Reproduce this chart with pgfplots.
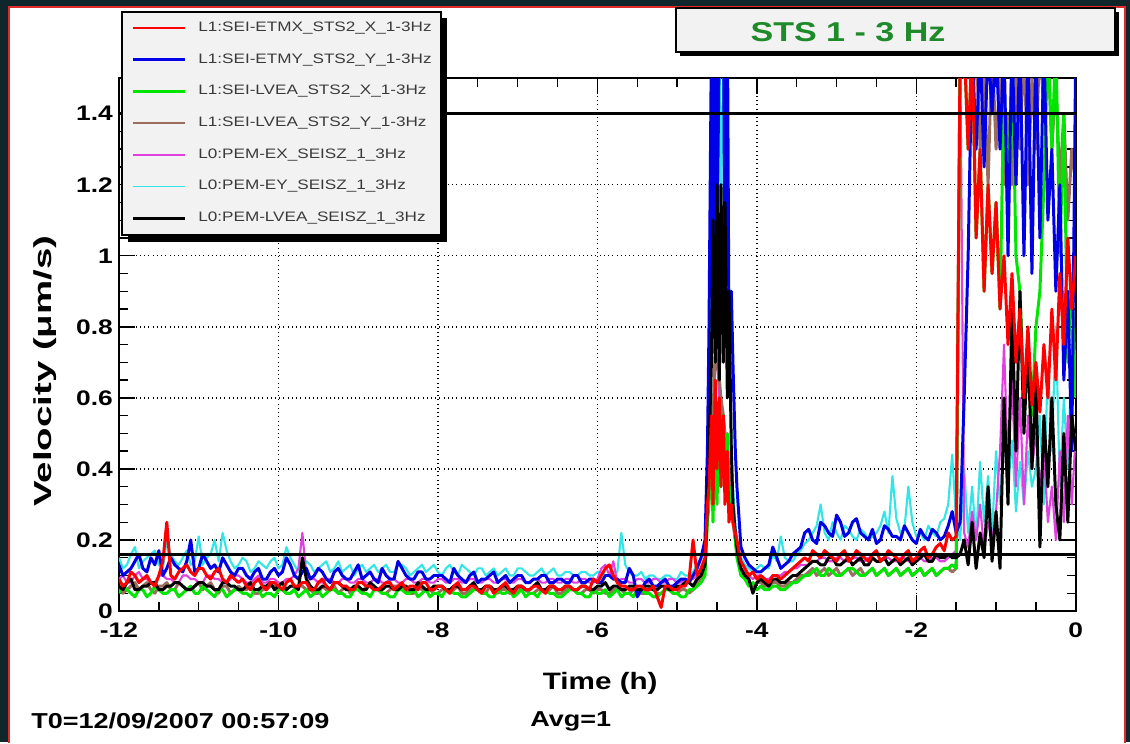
\documentclass[border=0pt]{standalone}
\usepackage{pgfplots}
\pgfplotsset{compat=1.18}
\usepackage{pgfplotstable}
\usepackage{fontspec}
\setmainfont{Liberation Sans}[FakeStretch=1.25]

\definecolor{bgdark}{HTML}{0F262B}
\definecolor{frame}{HTML}{E02A2A}
\definecolor{boxgray}{HTML}{F2F2F2}
\definecolor{legtext}{HTML}{3A3A3A}
\definecolor{cR}{HTML}{FF0000}
\definecolor{cB}{HTML}{0000E6}
\definecolor{cG}{HTML}{00E600}
\definecolor{cN}{HTML}{9A6E5E}
\definecolor{cM}{HTML}{E040E0}
\definecolor{cC}{HTML}{33E6E6}
\definecolor{ttl}{HTML}{1E8A2A}

% x  r=ETMX_X  b=ETMY_Y  g=LVEA_X  n=LVEA_Y  m=EX  c=EY  k=LVEA
\pgfplotstableread{
x      r    b    g    n    m    c    k
-12.0  .09  .13  .05  .07  .09  .15  .07
-11.95 .07  .10  .07  .05  .10  .12  .06
-11.9  .08  .11  .06  .06  .08  .13  .08
-11.85 .11  .12  .05  .07  .08  .16  .09
-11.8  .10  .14  .04  .08  .10  .18  .06
-11.75 .08  .16  .06  .06  .11  .12  .06
-11.7  .09  .12  .06  .07  .09  .14  .07
-11.65 .10  .11  .04  .08  .09  .15  .07
-11.6  .08  .15  .05  .06  .08  .16  .08
-11.55 .07  .13  .07  .05  .08  .17  .08
-11.5  .10  .17  .06  .07  .10  .13  .06
-11.45 .14  .10  .05  .07  .10  .12  .06
-11.4  .25  .12  .05  .08  .09  .20  .07
-11.35 .10  .15  .06  .06  .09  .16  .07
-11.3  .09  .13  .06  .06  .08  .14  .08
-11.25 .11  .12  .04  .08  .08  .13  .08
-11.2  .12  .11  .05  .07  .10  .15  .07
-11.15 .13  .14  .06  .06  .10  .17  .06
-11.1  .11  .20  .07  .06  .09  .13  .06
-11.05 .10  .11  .05  .07  .09  .14  .07
-11.0  .12  .12  .05  .08  .08  .21  .08
-10.95 .12  .16  .07  .06  .08  .13  .08
-10.9  .10  .14  .06  .07  .10  .15  .07
-10.85 .09  .12  .05  .08  .10  .16  .07
-10.8  .11  .13  .04  .06  .09  .20  .06
-10.75 .12  .11  .06  .05  .09  .14  .06
-10.7  .09  .15  .06  .07  .08  .22  .08
-10.65 .08  .13  .04  .07  .08  .17  .08
-10.6  .10  .11  .05  .05  .09  .14  .07
-10.55 .09  .10  .06  .06  .10  .12  .07
-10.5  .08  .12  .06  .07  .10  .13  .06
-10.45 .09  .12  .05  .06  .09  .15  .06
-10.4  .07  .10  .05  .06  .08  .14  .07
-10.35 .06  .09  .04  .07  .08  .11  .08
-10.3  .08  .11  .06  .05  .09  .12  .06
-10.25 .09  .12  .06  .05  .10  .14  .06
-10.2  .07  .09  .04  .06  .08  .13  .07
-10.15 .06  .09  .05  .06  .08  .12  .07
-10.1  .08  .11  .05  .07  .09  .14  .08
-10.05 .08  .12  .04  .07  .09  .15  .06
-10.0  .07  .10  .06  .06  .08  .12  .07
-9.95  .06  .11  .06  .06  .08  .13  .08
-9.9   .08  .15  .05  .05  .09  .18  .06
-9.85  .09  .13  .05  .05  .09  .15  .07
-9.8   .07  .10  .06  .06  .10  .13  .07
-9.75  .07  .09  .04  .07  .12  .11  .06
-9.7   .08  .11  .05  .07  .22  .12  .15
-9.65  .08  .12  .06  .06  .10  .14  .09
-9.6   .06  .09  .04  .06  .09  .13  .07
-9.55  .06  .10  .05  .05  .09  .11  .06
-9.5   .08  .12  .06  .05  .08  .12  .06
-9.45  .09  .11  .04  .07  .08  .13  .07
-9.4   .07  .09  .05  .06  .09  .14  .07
-9.35  .06  .08  .06  .06  .09  .11  .06
-9.3   .08  .11  .06  .07  .08  .12  .08
-9.25  .08  .12  .05  .05  .08  .14  .08
-9.2   .07  .10  .05  .06  .09  .11  .07
-9.15  .07  .09  .04  .07  .09  .12  .06
-9.1   .06  .09  .04  .05  .08  .13  .06
-9.05  .06  .11  .06  .06  .08  .10  .07
-9.0   .08  .13  .06  .06  .09  .12  .07
-8.95  .08  .09  .05  .05  .09  .13  .06
-8.9   .07  .10  .05  .07  .08  .11  .06
-8.85  .07  .11  .04  .07  .08  .12  .08
-8.8   .06  .09  .06  .06  .09  .13  .07
-8.75  .06  .08  .06  .06  .09  .11  .06
-8.7   .07  .12  .05  .05  .08  .12  .06
-8.65  .08  .10  .05  .05  .08  .13  .07
-8.6   .08  .09  .04  .06  .09  .11  .07
-8.55  .06  .09  .04  .07  .09  .11  .06
-8.5   .07  .14  .06  .07  .08  .13  .06
-8.45  .08  .12  .06  .06  .08  .13  .07
-8.4   .06  .10  .05  .06  .09  .12  .07
-8.35  .07  .09  .05  .05  .09  .10  .06
-8.3   .07  .09  .06  .05  .08  .11  .06
-8.25  .06  .11  .04  .07  .08  .12  .08
-8.2   .08  .11  .05  .06  .09  .13  .07
-8.15  .08  .09  .06  .06  .09  .11  .06
-8.1   .06  .09  .04  .06  .08  .12  .06
-8.05  .06  .10  .05  .05  .08  .13  .07
-8.0   .07  .10  .05  .05  .09  .11  .07
-7.95  .07  .10  .04  .06  .09  .10  .07
-7.9   .06  .09  .06  .06  .08  .12  .06
-7.85  .05  .08  .06  .05  .08  .13  .06
-7.8   .07  .12  .05  .06  .09  .11  .07
-7.75  .08  .10  .05  .07  .09  .10  .07
-7.7   .06  .09  .04  .05  .08  .13  .06
-7.65  .06  .08  .04  .05  .08  .12  .06
-7.6   .07  .10  .05  .06  .09  .11  .07
-7.55  .07  .11  .06  .06  .09  .10  .08
-7.5   .06  .08  .06  .06  .08  .12  .06
-7.45  .05  .09  .05  .05  .08  .12  .06
-7.4   .07  .09  .05  .05  .09  .10  .07
-7.35  .07  .10  .04  .07  .09  .11  .07
-7.3   .05  .11  .04  .06  .08  .12  .06
-7.25  .06  .08  .06  .05  .08  .10  .06
-7.2   .07  .09  .05  .06  .09  .11  .07
-7.15  .08  .10  .05  .06  .09  .12  .07
-7.1   .06  .08  .06  .05  .08  .10  .06
-7.05  .05  .09  .04  .05  .08  .10  .06
-7.0   .07  .10  .05  .06  .09  .12  .07
-6.95  .07  .10  .06  .07  .09  .12  .07
-6.9   .06  .08  .04  .06  .08  .11  .06
-6.85  .06  .08  .05  .05  .08  .10  .06
-6.8   .07  .09  .05  .05  .09  .10  .07
-6.75  .07  .09  .04  .06  .09  .11  .08
-6.7   .06  .10  .06  .06  .08  .12  .06
-6.65  .05  .10  .06  .05  .08  .10  .06
-6.6   .07  .08  .05  .06  .09  .11  .07
-6.55  .07  .08  .05  .07  .09  .12  .07
-6.5   .06  .09  .04  .05  .08  .10  .06
-6.45  .06  .09  .04  .05  .08  .10  .06
-6.4   .07  .08  .05  .06  .09  .11  .07
-6.35  .07  .08  .06  .06  .09  .11  .07
-6.3   .06  .10  .06  .06  .08  .10  .06
-6.25  .06  .10  .05  .05  .08  .10  .06
-6.2   .07  .08  .05  .05  .09  .11  .07
-6.15  .07  .08  .04  .06  .09  .11  .07
-6.1   .06  .09  .04  .06  .08  .10  .06
-6.05  .09  .09  .06  .05  .08  .10  .06
-6.0   .08  .08  .05  .06  .09  .11  .07
-5.95  .10  .08  .05  .06  .12  .11  .07
-5.9   .12  .10  .06  .05  .13  .10  .08
-5.85  .13  .10  .04  .05  .10  .10  .06
-5.8   .10  .09  .05  .06  .14  .11  .07
-5.75  .08  .09  .06  .06  .08  .11  .07
-5.7   .07  .08  .04  .06  .09  .22  .06
-5.65  .07  .08  .05  .05  .09  .13  .06
-5.6   .06  .12  .05  .05  .08  .11  .07
-5.55  .06  .10  .04  .06  .08  .10  .07
-5.5   .07  .04  .06  .06  .09  .10  .06
-5.45  .07  .06  .06  .05  .09  .11  .06
-5.4   .06  .08  .05  .05  .08  .09  .07
-5.35  .06  .09  .05  .06  .08  .10  .07
-5.3   .07  .07  .04  .06  .09  .10  .06
-5.25  .04  .07  .04  .05  .09  .09  .06
-5.2   .01  .08  .05  .05  .08  .09  .07
-5.15  .07  .09  .06  .06  .08  .10  .07
-5.1   .07  .07  .06  .06  .09  .10  .06
-5.05  .06  .07  .05  .05  .09  .09  .06
-5.0   .06  .08  .05  .05  .08  .09  .07
-4.95  .07  .09  .04  .06  .08  .11  .07
-4.9   .07  .09  .04  .06  .09  .10  .08
-4.85  .09  .08  .06  .05  .09  .10  .08
-4.8   .20  .10  .06  .06  .09  .11  .07
-4.75  .10  .12  .07  .08  .10  .13  .09
-4.70  .12  .15  .08  .09  .11  .15  .10
-4.65  .15  .20  .10  .12  .14  .18  .13
-4.62  .30  .45  .25  .28  .35  .40  .30
-4.60  .35  .80  .30  .40  .50  .60  .45
-4.57  .55  1.60 .45  .60  .70  .90  .70
-4.55  .30  .90  .25  .55  .85  1.20 1.10
-4.52  .65  1.70 .55  .75  .80  1.00 .70
-4.50  .40  1.00 .30  .70  .70  1.30 1.20
-4.47  .60  1.65 .58  .65  .60  1.60 .65
-4.45  .35  1.60 .35  .60  .55  1.10 1.20
-4.42  .55  1.70 .55  .55  .50  1.60 .70
-4.40  .30  .95  .40  .50  .45  1.30 1.15
-4.37  .45  1.70 .50  .45  .40  .90  .60
-4.35  .25  .80  .30  .40  .35  .70  .90
-4.32  .30  .90  .35  .32  .30  .50  .45
-4.30  .25  .70  .30  .25  .25  .35  .30
-4.27  .22  .45  .20  .20  .20  .25  .22
-4.25  .20  .35  .15  .16  .17  .20  .18
-4.22  .16  .25  .12  .13  .14  .17  .14
-4.20  .14  .18  .10  .11  .12  .15  .12
-4.15  .12  .15  .09  .10  .11  .13  .10
-4.10  .10  .13  .07  .08  .10  .12  .09
-4.05  .11  .12  .08  .07  .09  .11  .05
-4.00  .09  .11  .06  .08  .10  .12  .08
-3.95  .10  .11  .07  .08  .10  .13  .09
-3.9   .09  .12  .06  .07  .09  .12  .08
-3.85  .08  .13  .06  .07  .09  .12  .07
-3.8   .10  .18  .07  .08  .10  .16  .09
-3.75  .10  .15  .07  .08  .10  .14  .09
-3.7   .09  .12  .06  .07  .10  .21  .08
-3.65  .10  .13  .06  .07  .11  .15  .08
-3.6   .11  .14  .07  .08  .11  .14  .09
-3.55  .12  .16  .08  .08  .12  .14  .10
-3.5   .13  .17  .08  .09  .12  .16  .10
-3.45  .14  .18  .09  .10  .13  .17  .11
-3.4   .15  .22  .10  .10  .13  .19  .12
-3.35  .14  .23  .10  .11  .13  .20  .13
-3.3   .17  .20  .11  .12  .14  .22  .14
-3.25  .16  .19  .12  .10  .14  .24  .14
-3.2   .15  .25  .10  .11  .15  .30  .13
-3.15  .17  .24  .10  .12  .15  .22  .13
-3.1   .16  .22  .12  .10  .14  .20  .15
-3.05  .15  .21  .11  .11  .14  .25  .15
-3.0   .14  .27  .10  .12  .15  .22  .13
-2.95  .16  .25  .10  .10  .15  .20  .13
-2.9   .17  .21  .11  .11  .14  .24  .14
-2.85  .14  .22  .12  .12  .14  .23  .15
-2.8   .15  .25  .12  .10  .15  .21  .13
-2.75  .17  .26  .11  .11  .15  .20  .14
-2.7   .16  .22  .10  .12  .14  .23  .15
-2.65  .15  .21  .10  .10  .14  .22  .13
-2.6   .14  .20  .11  .11  .15  .20  .13
-2.55  .16  .23  .12  .12  .15  .21  .15
-2.5   .17  .19  .10  .10  .14  .22  .14
-2.45  .14  .20  .11  .11  .14  .24  .14
-2.4   .15  .24  .12  .12  .15  .28  .15
-2.35  .17  .23  .10  .10  .15  .22  .13
-2.3   .16  .21  .11  .11  .14  .38  .14
-2.25  .15  .21  .12  .12  .14  .26  .15
-2.2   .14  .20  .10  .10  .15  .22  .13
-2.15  .16  .24  .11  .11  .15  .23  .14
-2.1   .17  .22  .12  .12  .14  .35  .15
-2.05  .14  .20  .10  .10  .14  .25  .13
-2.0   .15  .19  .11  .11  .15  .21  .14
-1.95  .17  .23  .12  .12  .15  .22  .15
-1.9   .18  .21  .10  .10  .14  .20  .16
-1.85  .15  .20  .11  .11  .14  .24  .14
-1.8   .16  .23  .12  .12  .15  .22  .14
-1.75  .18  .22  .10  .10  .15  .21  .16
-1.7   .19  .20  .11  .11  .14  .25  .15
-1.65  .17  .21  .12  .12  .14  .26  .15
-1.6   .22  .24  .12  .12  .15  .30  .16
-1.55  .20  .28  .13  .11  .16  .44  .15
-1.50  .21  .22  .12  .12  .17  .25  .15
-1.45  1.60 .25  1.60 1.60 1.60 .20  .16
-1.40  1.60 .60  1.60 1.50 .22  .40  .20
-1.35  1.30 1.00 1.30 1.60 .18  .22  .13
-1.30  1.60 1.60 1.60 1.40 .28  .35  .25
-1.25  1.05 1.30 1.05 1.60 .20  .20  .12
-1.20  1.30 1.60 1.30 1.30 .30  .42  .22
-1.15  .90  1.25 .90  1.50 .17  .25  .15
-1.10  1.20 1.60 1.20 1.20 .25  .38  .35
-1.05  .95  1.40 .95  1.60 .20  .22  .14
-1.00  1.15 1.60 1.15 1.30 .28  .45  .28
-0.95  .85  1.30 .85  1.50 .45  .30  .12
-0.90  1.00 1.60 1.50 1.20 .75  .50  .60
-0.85  .75  1.00 1.10 1.40 .40  .35  .30
-0.80  .95  1.60 1.60 1.20 .65  .48  .85
-0.75  .70  1.20 1.00 1.50 .35  .28  .45
-0.70  .85  1.60 .90  1.30 .60  .42  .90
-0.65  .60  1.00 .60  1.60 .30  .30  .50
-0.60  .80  1.60 .75  1.20 .55  .45  .75
-0.55  .58  .95  .55  1.50 .40  .35  .40
-0.50  .70  1.60 .80  1.30 .50  .40  .65
-0.45  .56  1.05 .90  1.60 .35  .55  .18
-0.40  .75  1.60 1.20 1.40 .45  .30  .55
-0.35  .60  1.10 1.60 1.60 .25  .70  .35
-0.30  .85  1.30 1.30 1.30 .35  .45  .60
-0.25  .65  .90  1.60 1.50 .20  .80  .30
-0.20  .95  1.20 1.00 1.20 .45  .35  .20
-0.15  .75  .65  1.40 1.40 .25  .60  .50
-0.10  1.05 .90  .70  1.10 .55  .40  .25
-0.05  .85  .45  .95  1.30 .30  .75  .55
0.00   1.00 1.60 .60  1.20 .50  .65  .45
}\seis

\begin{document}
\begin{tikzpicture}[x=0.02cm,y=0.02cm]
\fill[bgdark] (0,0) rectangle (1130,742);
\fill[white] (9,0) rectangle (1125,735);
\draw[frame,line width=1pt] (9,-1) -- (9,735) -- (1125,735) -- (1125,-1);

\begin{axis}[
  at={(2.38cm,2.62cm)}, anchor=south west,
  scale only axis, width=19.14cm, height=10.66cm,
  xmin=-12, xmax=0, ymin=0, ymax=1.5,
  xtick={-12,-10,-8,-6,-4,-2,0},
  xticklabels={-12,-10,-8,-6,-4,-2,0},
  ytick={0,0.2,0.4,0.6,0.8,1,1.2,1.4},
  yticklabels={0,0.2,0.4,0.6,0.8,1,1.2,1.4},
  minor x tick num=3, minor y tick num=3,
  tick align=inside,
  major tick length=0.32cm, minor tick length=0.18cm,
  every tick/.style={black,line width=0.8pt},
  axis line style={line width=1pt},
  ymajorgrids, xmajorgrids,
  major grid style={black,dotted,line width=0.8pt},
  tick label style={font=\fontsize{12}{14}\selectfont\bfseries},
  xticklabel style={yshift=-3pt},
  xlabel={\fontsize{13.5}{16}\selectfont\bfseries Time (h)},
  xlabel style={at={(axis description cs:0.503,-0.135)}, anchor=center},
  ylabel={\scalebox{1.25}[1]{\fontsize{14}{16}\selectfont\bfseries Velocity (μm/s)}},
  ylabel style={at={(axis description cs:-0.077,0.45)}, anchor=center},
  every axis plot/.append style={line join=round},
]
\addplot[cC, line width=1.2pt] table[x=x,y=c] {\seis};
\addplot[cM, line width=1.2pt] table[x=x,y=m] {\seis};
\addplot[cN, line width=1.7pt] table[x=x,y=n] {\seis};
\addplot[cG, line width=1.7pt] table[x=x,y=g] {\seis};
\addplot[cB, line width=1.7pt] table[x=x,y=b] {\seis};
\addplot[black, line width=1.7pt] table[x=x,y=k] {\seis};
\addplot[cR, line width=1.7pt] table[x=x,y=r] {\seis};
\addplot[black, line width=1.8pt] coordinates {(-12,1.4) (0,1.4)};
\addplot[black, line width=1.8pt] coordinates {(-12,0.16) (0,0.16)};
\end{axis}

% legend
\fill[black] (128,500) rectangle (447,724);
\filldraw[fill=boxgray, draw=black, line width=0.6pt] (122,507) rectangle (441,730);
\foreach \col/\lw/\txt [count=\i from 0] in {
  cR/1.6pt/{L1:SEI-ETMX\_STS2\_X\_1-3Hz},
  cB/1.6pt/{L1:SEI-ETMY\_STS2\_Y\_1-3Hz},
  cG/1.6pt/{L1:SEI-LVEA\_STS2\_X\_1-3Hz},
  cN/1.6pt/{L1:SEI-LVEA\_STS2\_Y\_1-3Hz},
  cM/1.1pt/{L0:PEM-EX\_SEISZ\_1\_3Hz},
  cC/1.1pt/{L0:PEM-EY\_SEISZ\_1\_3Hz},
  black/1.6pt/{L0:PEM-LVEA\_SEISZ\_1\_3Hz}} {
  \draw[\col, line width=\lw] (133,714-31.7*\i) -- (185,714-31.7*\i);
  \node[anchor=west, inner sep=0pt, text=legtext, font=\fontsize{7.8}{9}\selectfont] at (198,714-31.7*\i) {\txt};
}

% title box
\fill[black] (680,686) rectangle (1119,730);
\filldraw[fill=boxgray, draw=black, line width=0.6pt] (676,690) rectangle (1115,734);
\node[text=ttl, font=\fontsize{15.5}{18}\selectfont\bfseries] at (848,710) {STS 1 - 3 Hz};

\node[anchor=west, inner sep=0pt, font=\fontsize{12.3}{14}\selectfont\bfseries] at (31,21) {T0=12/09/2007 00:57:09};
\node[anchor=west, inner sep=0pt, font=\fontsize{12.3}{14}\selectfont\bfseries] at (530,21) {Avg=1};
\end{tikzpicture}
\end{document}
